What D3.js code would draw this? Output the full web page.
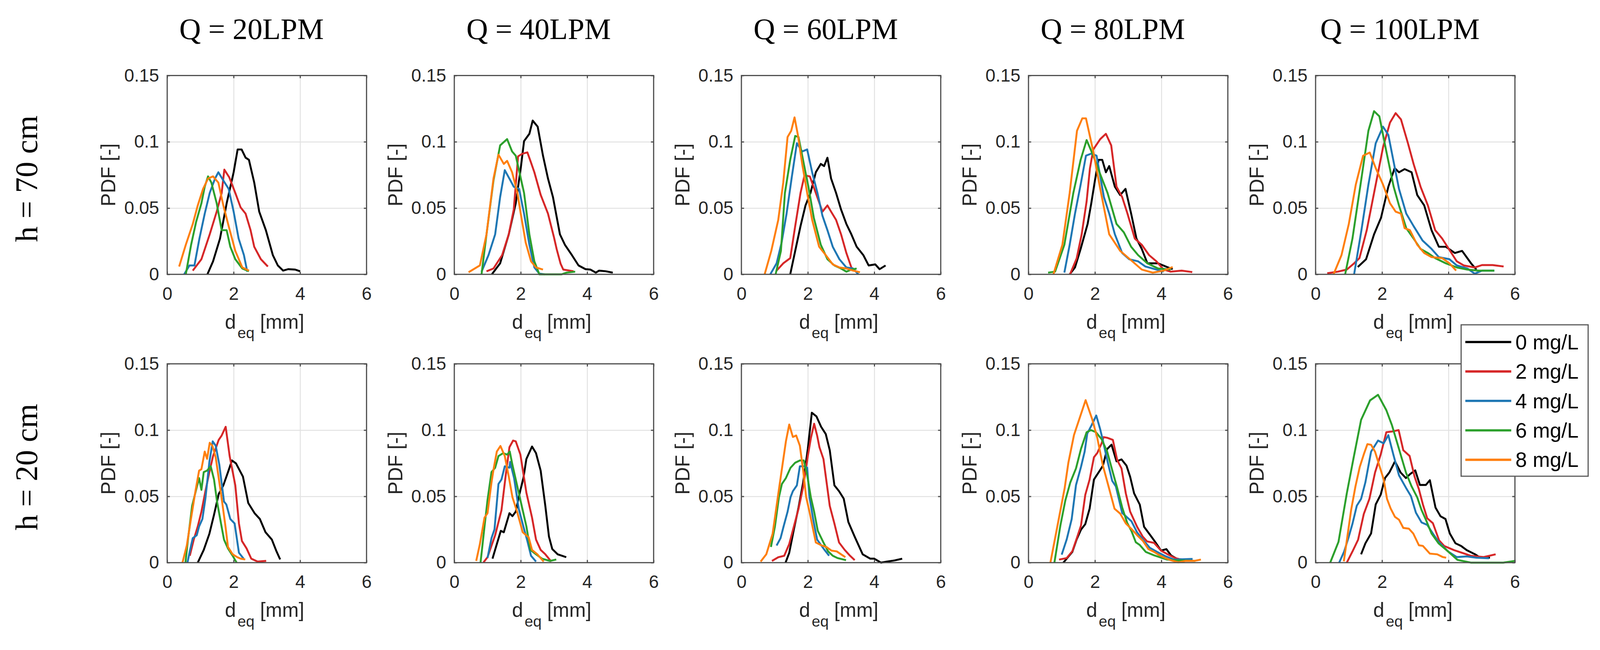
<!DOCTYPE html>
<html>
<head>
<meta charset="utf-8">
<script src="https://cdn.jsdelivr.net/npm/d3@7"></script>
<style>
  html, body { margin: 0; padding: 0; background: #fff; overflow: hidden; }
  svg { display: block; width: 100vw; height: 100vh; }
</style>
</head>
<body>
<svg id="chart"></svg>
<script>
// column / row headings and legend entries
var flowTitles = ["Q = 20LPM", "Q = 40LPM", "Q = 60LPM", "Q = 80LPM", "Q = 100LPM"];
var heightLabels = ["h = 70 cm", "h = 20 cm"];
var concLabels = ["0 mg/L", "2 mg/L", "4 mg/L", "6 mg/L", "8 mg/L"];
var xTicks = [0, 2, 4, 6];
var yTicks = [0, 0.05, 0.1, 0.15];

// each panel: [0 mg/L, 2 mg/L, 4 mg/L, 6 mg/L, 8 mg/L], points are [d_eq, PDF]
var h70_q20 = [
  [[1.21,0],[1.38,0.0098],[1.59,0.027],[1.79,0.0536],[2.0,0.077],[2.12,0.0942],[2.24,0.0942],[2.36,0.088],[2.46,0.0864],[2.62,0.0692],[2.77,0.0473],[2.97,0.0333],[3.18,0.0145],[3.33,0.0067],[3.49,0.0028],[3.64,0.0039],[3.85,0.0036],[4.0,0.0023]],
  [[0.77,0.0028],[1.03,0.0114],[1.28,0.0302],[1.49,0.0473],[1.64,0.0614],[1.72,0.079],[1.87,0.0731],[2.05,0.0614],[2.21,0.0505],[2.36,0.0458],[2.51,0.0333],[2.62,0.0208],[2.82,0.0114],[3.03,0.0059]],
  [[0.51,0],[0.67,0.0067],[0.82,0.0067],[0.97,0.027],[1.13,0.0458],[1.28,0.0614],[1.44,0.0723],[1.54,0.077],[1.69,0.0708],[1.85,0.0645],[2.0,0.0473],[2.15,0.027],[2.31,0.0145],[2.41,0.002]],
  [[0.56,0],[0.72,0.0223],[0.87,0.0395],[1.03,0.0536],[1.13,0.0661],[1.23,0.0739],[1.33,0.0692],[1.49,0.0536],[1.64,0.0333],[1.79,0.0333],[1.9,0.0208],[2.05,0.0114],[2.26,0.0044],[2.46,0.0023]],
  [[0.36,0.0059],[0.56,0.0223],[0.77,0.038],[0.92,0.052],[1.08,0.0645],[1.23,0.0723],[1.38,0.0739],[1.54,0.0692],[1.69,0.052],[1.85,0.0364],[2.05,0.0177],[2.26,0.0052],[2.46,0.0028]]
];
var h70_q40 = [
  [[1.13,0],[1.38,0.0083],[1.64,0.0302],[1.85,0.0536],[2.0,0.08],[2.1,0.1005],[2.26,0.106],[2.36,0.116],[2.51,0.1114],[2.67,0.0895],[2.82,0.0723],[2.97,0.0583],[3.18,0.0302],[3.33,0.0223],[3.54,0.0145],[3.74,0.0067],[3.95,0.0039],[4.1,0.0036],[4.26,0.0013],[4.36,0.0028],[4.56,0.0023],[4.77,0.0013]],
  [[0.97,0.0023],[1.18,0.0044],[1.44,0.0145],[1.64,0.0302],[1.79,0.0489],[1.92,0.089],[2.05,0.091],[2.2,0.092],[2.3,0.085],[2.41,0.077],[2.6,0.06],[2.82,0.0458],[3.0,0.028],[3.08,0.0192],[3.2,0.008],[3.28,0.0036],[3.59,0.0023]],
  [[0.82,0.002],[1.03,0.0145],[1.23,0.0302],[1.38,0.0583],[1.52,0.0786],[1.69,0.0708],[1.79,0.0661],[1.95,0.0645],[2.1,0.0458],[2.26,0.0223],[2.41,0.0052],[2.56,0.0005],[2.72,0]],
  [[0.82,0],[0.97,0.0302],[1.18,0.0708],[1.38,0.0973],[1.59,0.102],[1.74,0.0927],[1.85,0.0895],[2.1,0.0614],[2.26,0.0302],[2.41,0.0098],[2.56,0],[3.23,0],[3.38,0.0013],[3.64,0.002]],
  [[0.43,0.0016],[0.77,0.0067],[0.97,0.0302],[1.18,0.0723],[1.33,0.0903],[1.49,0.0833],[1.59,0.0856],[1.74,0.077],[1.9,0.0614],[2.0,0.0458],[2.15,0.0239],[2.31,0.0098],[2.46,0.0052],[2.67,0.0036]]
];
var h70_q60 = [
  [[1.47,0],[1.62,0.0177],[1.78,0.0364],[1.93,0.052],[2.08,0.0614],[2.24,0.077],[2.39,0.0833],[2.49,0.0817],[2.59,0.088],[2.7,0.0723],[2.85,0.0614],[3.0,0.0489],[3.16,0.038],[3.31,0.0302],[3.47,0.0208],[3.67,0.0145],[3.83,0.0067],[4.03,0.0075],[4.16,0.0039],[4.34,0.0067]],
  [[1.06,0.0028],[1.26,0.0083],[1.47,0.0122],[1.62,0.0364],[1.78,0.0614],[1.9,0.0747],[2.06,0.0739],[2.24,0.0614],[2.44,0.0473],[2.59,0.052],[2.7,0.0473],[2.85,0.0411],[3.0,0.0302],[3.16,0.0161],[3.31,0.0052],[3.47,0.0016]],
  [[0.87,0],[1.06,0.0083],[1.21,0.0239],[1.36,0.0458],[1.52,0.0739],[1.67,0.0989],[1.83,0.0927],[1.98,0.0942],[2.13,0.077],[2.29,0.0614],[2.44,0.0442],[2.59,0.0333],[2.75,0.0208],[2.95,0.0114],[3.16,0.0052],[3.36,0.0044],[3.52,0]],
  [[1.03,0],[1.19,0.0177],[1.31,0.0614],[1.47,0.0864],[1.62,0.1044],[1.72,0.1036],[1.88,0.0833],[2.03,0.0645],[2.18,0.0427],[2.39,0.0223],[2.59,0.0114],[2.8,0.0067],[3.0,0.0044],[3.16,0.002],[3.31,0.0036],[3.47,0.0044]],
  [[0.7,0],[0.9,0.0177],[1.11,0.0411],[1.26,0.0692],[1.39,0.1036],[1.5,0.1083],[1.6,0.1184],[1.7,0.1052],[1.83,0.0833],[1.98,0.0614],[2.13,0.0411],[2.34,0.0208],[2.54,0.0145],[2.75,0.0075],[2.95,0.0052],[3.16,0.0044],[3.36,0.0028],[3.57,0.0016]]
];
var h70_q80 = [
  [[1.24,0],[1.4,0.0052],[1.57,0.0192],[1.78,0.038],[1.89,0.0536],[2.0,0.0708],[2.11,0.0864],[2.22,0.0864],[2.33,0.077],[2.43,0.0817],[2.6,0.0661],[2.76,0.0598],[2.92,0.0645],[3.09,0.0458],[3.25,0.027],[3.41,0.0192],[3.58,0.0083],[3.9,0.0083],[4.17,0.0055],[4.34,0.0039]],
  [[1.25,0],[1.45,0.012],[1.6,0.03],[1.75,0.055],[1.85,0.08],[1.95,0.0942],[2.16,0.102],[2.33,0.106],[2.49,0.0973],[2.65,0.0661],[2.82,0.0583],[2.98,0.0458],[3.2,0.027],[3.41,0.0223],[3.63,0.0145],[3.85,0.0098],[4.07,0.0036],[4.28,0.002],[4.61,0.0028],[4.93,0.0017]],
  [[1.08,0.0013],[1.24,0.0223],[1.4,0.0458],[1.57,0.0677],[1.73,0.0895],[1.89,0.0911],[2.05,0.0895],[2.27,0.0583],[2.43,0.0458],[2.6,0.0302],[2.82,0.0161],[3.03,0.0114],[3.3,0.0098],[3.52,0.0059],[3.85,0.0036],[4.07,0.002]],
  [[0.59,0.0013],[0.8,0.002],[1.08,0.0223],[1.35,0.0614],[1.57,0.0864],[1.75,0.1013],[1.95,0.0895],[2.16,0.0755],[2.38,0.0614],[2.65,0.038],[2.87,0.0317],[3.09,0.0208],[3.3,0.0145],[3.58,0.0083],[3.9,0.0044],[4.28,0.0036]],
  [[0.75,0],[1.02,0.0223],[1.24,0.0614],[1.46,0.1083],[1.62,0.1177],[1.73,0.1177],[1.95,0.0927],[2.16,0.0645],[2.43,0.0302],[2.76,0.0177],[3.09,0.0106],[3.41,0.0036],[3.74,0.0013],[4.07,0.0028],[4.34,0.0055]]
];
var h70_q100 = [
  [[1.27,0.0055],[1.52,0.0114],[1.76,0.0302],[1.97,0.0427],[2.19,0.0661],[2.38,0.0802],[2.51,0.077],[2.68,0.0794],[2.89,0.077],[3.06,0.0598],[3.27,0.052],[3.49,0.0333],[3.71,0.0208],[3.92,0.0208],[4.19,0.0161],[4.41,0.0177],[4.68,0.0083],[4.84,0.0036]],
  [[0.35,0.0008],[0.67,0.002],[0.94,0.0036],[1.16,0.0083],[1.32,0.0122],[1.54,0.0333],[1.76,0.0614],[2.03,0.0958],[2.24,0.1145],[2.41,0.1216],[2.57,0.1169],[2.78,0.0989],[2.95,0.0833],[3.16,0.0661],[3.38,0.052],[3.6,0.0333],[3.81,0.027],[4.03,0.0184],[4.25,0.0098],[4.46,0.0067],[4.79,0.0052],[5.01,0.007],[5.33,0.007],[5.66,0.0059]],
  [[1.16,0],[1.38,0.0333],[1.59,0.0677],[1.81,0.0989],[2.03,0.1114],[2.19,0.1052],[2.35,0.0848],[2.51,0.0645],[2.73,0.0458],[2.95,0.0364],[3.22,0.0255],[3.49,0.0192],[3.71,0.013],[4.03,0.0114],[4.25,0.0067],[4.57,0.0044],[4.79,0.0005],[5.01,0.0028],[5.38,0.0028]],
  [[0.89,0],[1.11,0.027],[1.38,0.0723],[1.59,0.1083],[1.76,0.1231],[1.92,0.1192],[2.13,0.0927],[2.35,0.0661],[2.51,0.052],[2.73,0.0348],[2.95,0.027],[3.16,0.0192],[3.38,0.0161],[3.6,0.0122],[3.92,0.0083],[4.25,0.0052],[4.57,0.0036],[4.9,0.0028],[5.38,0.0028]],
  [[0.54,0],[0.78,0.0145],[1.0,0.038],[1.21,0.0677],[1.43,0.0895],[1.63,0.0919],[1.81,0.0802],[2.03,0.0677],[2.24,0.0536],[2.41,0.0473],[2.57,0.0458],[2.68,0.0348],[2.84,0.0333],[3.06,0.0223],[3.27,0.0161],[3.49,0.013],[3.81,0.0122],[4.03,0.0083],[4.23,0.0028]]
];
var h20_q20 = [
  [[0.92,0],[1.1,0.0096],[1.27,0.0218],[1.41,0.0362],[1.55,0.0517],[1.69,0.0583],[1.83,0.0683],[1.95,0.0771],[2.07,0.0749],[2.28,0.0649],[2.44,0.045],[2.63,0.0373],[2.79,0.0329],[2.96,0.0229],[3.15,0.0174],[3.29,0.0085],[3.4,0.0024]],
  [[0.68,0.0052],[0.8,0.0174],[0.92,0.0273],[1.03,0.0384],[1.15,0.0539],[1.27,0.0683],[1.38,0.0804],[1.55,0.0926],[1.64,0.0959],[1.76,0.1025],[1.88,0.0804],[2.05,0.0583],[2.16,0.0295],[2.25,0.0163],[2.39,0.0107],[2.53,0.003],[2.72,0.0008],[2.98,0.0013]],
  [[0.61,0],[0.68,0.0085],[0.77,0.0185],[0.89,0.0207],[0.96,0.0273],[1.06,0.0329],[1.15,0.0483],[1.27,0.076],[1.37,0.0915],[1.46,0.0882],[1.57,0.0738],[1.71,0.0461],[1.78,0.0439],[1.9,0.0329],[2.03,0.0295],[2.16,0.0074],[2.3,0.003]],
  [[0.55,0],[0.63,0.0185],[0.75,0.0428],[0.87,0.0549],[0.96,0.0638],[1.03,0.0549],[1.1,0.0683],[1.2,0.0694],[1.31,0.0727],[1.41,0.0627],[1.5,0.0461],[1.62,0.0295],[1.71,0.0174],[1.83,0.0107],[1.97,0.0052],[2.09,0]],
  [[0.46,0],[0.59,0.0129],[0.7,0.0306],[0.85,0.0539],[0.96,0.0694],[1.03,0.0705],[1.13,0.0838],[1.2,0.0783],[1.28,0.0904],[1.36,0.0882],[1.46,0.0794],[1.55,0.0639],[1.64,0.0483],[1.76,0.0262],[1.83,0.0118],[1.97,0.0063],[2.11,0.0041],[2.21,0.003],[2.35,0.0024]]
];
var h20_q40 = [
  [[1.15,0.003],[1.28,0.014],[1.4,0.024],[1.49,0.0229],[1.66,0.0373],[1.75,0.0351],[1.85,0.0384],[1.96,0.0517],[2.08,0.0638],[2.17,0.0782],[2.34,0.0876],[2.46,0.0826],[2.6,0.0694],[2.74,0.0428],[2.85,0.0196],[2.95,0.0102],[3.11,0.0063],[3.37,0.0041]],
  [[0.88,0.0002],[1.0,0.0041],[1.23,0.0207],[1.42,0.0395],[1.56,0.0683],[1.66,0.0871],[1.77,0.0921],[1.85,0.0915],[1.99,0.0815],[2.17,0.0528],[2.34,0.034],[2.46,0.0174],[2.6,0.0096],[2.74,0.0063],[2.92,0.0008]],
  [[1.0,0.0035],[1.12,0.0185],[1.21,0.0251],[1.33,0.0594],[1.42,0.0627],[1.52,0.0727],[1.66,0.0716],[1.68,0.076],[1.8,0.0638],[1.94,0.0406],[2.08,0.0273],[2.2,0.0163],[2.31,0.0052],[2.46,0.0008]],
  [[0.79,0],[0.91,0.0273],[1.0,0.0472],[1.12,0.0683],[1.23,0.0716],[1.33,0.0804],[1.47,0.0826],[1.59,0.0815],[1.67,0.0838],[1.75,0.0738],[1.89,0.0583],[2.03,0.0428],[2.17,0.0273],[2.29,0.0096],[2.46,0.0063],[2.64,0.003],[2.88,0.0013],[3.07,0.0024]],
  [[0.66,0.0013],[0.77,0.014],[0.91,0.034],[1.0,0.0373],[1.12,0.0605],[1.19,0.0716],[1.28,0.0838],[1.39,0.088],[1.52,0.0804],[1.64,0.0649],[1.75,0.0494],[1.89,0.0384],[2.06,0.0229],[2.24,0.019],[2.34,0.0096],[2.5,0.0063],[2.69,0.0008]]
];
var h20_q60 = [
  [[1.33,0],[1.44,0.0074],[1.58,0.0251],[1.72,0.0417],[1.86,0.0605],[2.0,0.086],[2.12,0.1131],[2.26,0.1103],[2.4,0.1025],[2.54,0.097],[2.66,0.0848],[2.8,0.0583],[2.94,0.0539],[3.08,0.0483],[3.22,0.0306],[3.41,0.0196],[3.65,0.0063],[3.88,0.003],[4.0,0.003],[4.2,0],[4.39,0.0008],[4.62,0.0017],[4.84,0.003]],
  [[0.92,0.0013],[1.11,0.0041],[1.29,0.0052],[1.44,0.014],[1.58,0.0273],[1.72,0.0406],[1.86,0.0572],[2.0,0.0804],[2.09,0.0937],[2.19,0.1048],[2.28,0.0959],[2.35,0.087],[2.47,0.0782],[2.66,0.0428],[2.8,0.0295],[2.94,0.0152],[3.11,0.0096],[3.27,0.0052],[3.41,0.0019]],
  [[1.06,0.0129],[1.18,0.0185],[1.27,0.0273],[1.39,0.0384],[1.48,0.0494],[1.55,0.0539],[1.67,0.0583],[1.76,0.0727],[1.88,0.0727],[1.98,0.0716],[2.05,0.0494],[2.16,0.0329],[2.28,0.0174],[2.47,0.0107],[2.64,0.0052]],
  [[0.89,0.0118],[1.01,0.0273],[1.13,0.0494],[1.22,0.0594],[1.34,0.0638],[1.48,0.0716],[1.62,0.0754],[1.76,0.0771],[1.88,0.0771],[1.98,0.066],[2.09,0.0494],[2.19,0.0384],[2.3,0.024],[2.47,0.0152],[2.61,0.0085],[2.75,0.0052],[2.89,0.0035],[3.15,0.0019]],
  [[0.58,0.0008],[0.75,0.0063],[0.94,0.0218],[1.11,0.0517],[1.25,0.076],[1.34,0.0915],[1.44,0.1042],[1.55,0.0948],[1.65,0.0959],[1.76,0.0882],[1.86,0.0694],[1.95,0.0494],[2.05,0.0384],[2.14,0.0273],[2.24,0.0152],[2.42,0.0129],[2.56,0.0118],[2.71,0.0091],[2.87,0.0085],[3.13,0.0041]]
];
var h20_q80 = [
  [[1.05,0],[1.18,0.0039],[1.32,0.0081],[1.45,0.0175],[1.58,0.0249],[1.71,0.0291],[1.84,0.0407],[1.97,0.0627],[2.16,0.07],[2.24,0.0732],[2.37,0.0858],[2.5,0.089],[2.65,0.0764],[2.8,0.0779],[2.95,0.0732],[3.06,0.0648],[3.18,0.0522],[3.35,0.0438],[3.48,0.027],[3.7,0.0196],[3.82,0.0154],[3.99,0.0091],[4.15,0.0102],[4.29,0.0055],[4.47,0.0028],[4.64,0.0023]],
  [[0.92,0.0023],[1.15,0.0034],[1.32,0.0086],[1.47,0.0196],[1.58,0.028],[1.71,0.0512],[1.84,0.0627],[1.97,0.0795],[2.07,0.0827],[2.2,0.09],[2.26,0.0947],[2.37,0.0942],[2.54,0.0926],[2.67,0.0774],[2.8,0.0711],[2.93,0.0522],[3.06,0.0385],[3.27,0.027],[3.44,0.0196],[3.57,0.016],[3.78,0.0149],[3.99,0.0091],[4.21,0.006],[4.42,0.0034],[4.59,0.0023]],
  [[1.0,0.006],[1.15,0.0175],[1.3,0.0328],[1.43,0.0585],[1.58,0.0722],[1.69,0.0837],[1.77,0.0974],[1.9,0.1037],[2.04,0.111],[2.16,0.1005],[2.24,0.0921],[2.37,0.0774],[2.52,0.0617],[2.63,0.0575],[2.82,0.0375],[3.1,0.0312],[3.27,0.0228],[3.44,0.0175],[3.65,0.0112],[3.87,0.0081],[4.12,0.0049],[4.38,0.0023],[4.94,0.0028]],
  [[0.78,0],[0.96,0.028],[1.11,0.047],[1.26,0.0606],[1.43,0.0711],[1.58,0.0858],[1.75,0.0984],[1.88,0.1],[2.03,0.0984],[2.2,0.0932],[2.37,0.0837],[2.54,0.068],[2.67,0.0564],[2.82,0.0417],[2.97,0.0301],[3.1,0.0238],[3.23,0.0154],[3.35,0.0133],[3.53,0.0081],[3.78,0.0055],[4.17,0.0023],[4.38,0.0018],[5.02,0.0013]],
  [[0.66,0],[1.09,0.0564],[1.2,0.0753],[1.37,0.0963],[1.72,0.1226],[1.92,0.108],[2.07,0.0942],[2.24,0.0732],[2.41,0.0575],[2.59,0.0407],[2.76,0.037],[2.93,0.0296],[3.1,0.0254],[3.27,0.0207],[3.44,0.0165],[3.61,0.0102],[3.78,0.0081],[3.95,0.0055],[4.12,0.0034],[4.29,0.0018],[4.51,0.0002],[4.72,0.0013],[4.98,0.0013],[5.19,0.0023]]
];
var h20_q100 = [
  [[1.37,0.0063],[1.5,0.0146],[1.67,0.022],[1.81,0.0439],[1.96,0.0513],[2.09,0.0638],[2.22,0.068],[2.39,0.0764],[2.56,0.068],[2.72,0.0638],[2.85,0.0669],[3.0,0.0696],[3.14,0.0586],[3.32,0.0586],[3.44,0.0622],[3.61,0.0415],[3.76,0.035],[3.91,0.0329],[4.04,0.022],[4.21,0.0146],[4.38,0.0126],[4.55,0.0094],[4.8,0.0063],[4.93,0.0042],[5.25,0.0037]],
  [[0.94,0],[1.11,0.0084],[1.28,0.0173],[1.45,0.0366],[1.62,0.0481],[1.79,0.068],[1.96,0.0816],[2.13,0.0984],[2.3,0.0989],[2.5,0.1],[2.64,0.0848],[2.83,0.0805],[2.98,0.0649],[3.11,0.0554],[3.23,0.0439],[3.36,0.0335],[3.53,0.0298],[3.72,0.0167],[3.87,0.0126],[4.17,0.0094],[4.42,0.0073],[4.67,0.0052],[5.06,0.0042],[5.42,0.0063]],
  [[0.71,0],[0.86,0.0084],[0.99,0.0188],[1.11,0.0293],[1.24,0.0429],[1.37,0.0481],[1.5,0.0607],[1.67,0.0837],[1.88,0.0921],[2.05,0.09],[2.19,0.0962],[2.34,0.0816],[2.51,0.0659],[2.72,0.0565],[2.87,0.0502],[3.02,0.0377],[3.19,0.0303],[3.36,0.0285],[3.53,0.022],[3.7,0.0157],[3.99,0.0084],[4.25,0.0042],[4.55,0.0047],[4.84,0.0037],[5.22,0.0033]],
  [[0.44,0],[0.69,0.0157],[0.94,0.0523],[1.14,0.0785],[1.37,0.1077],[1.64,0.1224],[1.88,0.1266],[2.13,0.115],[2.3,0.1036],[2.51,0.0858],[2.72,0.068],[2.89,0.0575],[3.06,0.0492],[3.19,0.0397],[3.32,0.0324],[3.49,0.022],[3.7,0.0146],[3.99,0.0084],[4.27,0.0021],[4.67,0],[5.1,0],[5.65,0],[5.99,0.0013]],
  [[0.85,0.001],[0.94,0.0167],[1.07,0.0397],[1.2,0.0575],[1.33,0.0722],[1.45,0.0816],[1.56,0.0894],[1.67,0.0889],[1.79,0.0837],[1.92,0.0732],[2.05,0.0628],[2.15,0.0481],[2.26,0.0408],[2.39,0.0345],[2.51,0.0324],[2.64,0.0262],[2.81,0.0256],[2.94,0.022],[3.11,0.0131],[3.23,0.0126],[3.44,0.0068],[3.66,0.0063],[3.83,0.0042],[3.93,0.0037]]
];

var panelRows = [
  [h70_q20, h70_q40, h70_q60, h70_q80, h70_q100],
  [h20_q20, h20_q40, h20_q60, h20_q80, h20_q100]
];
var seriesColors = ["#000000", "#d62728", "#1f77b4", "#2ca02c", "#ff7f0e"];

var W = 4182, H = 1665;
var colLeft0 = 437, colPitch = 750.4;
var rowTop = [180, 934];
var pw = 521, ph = 520;
var axisColor = "#4d4d4d";
var sans = "'Liberation Sans', Arial, sans-serif";
var serif = "'Liberation Serif', 'Times New Roman', serif";
var fmt = d3.format("~g");

// viewBox keeps the whole figure inside the window whatever its exact size
var svg = d3.select("#chart")
  .attr("viewBox", "0 0 " + W + " " + H)
  .attr("preserveAspectRatio", "xMidYMid meet");
svg.append("rect").attr("width", W).attr("height", H).attr("fill", "#fff");

var x = d3.scaleLinear().domain([0, 6]).range([0, pw]);
var y = d3.scaleLinear().domain([0, 0.15]).range([ph, 0]);
var line = d3.line().x(function(d) { return x(d[0]); }).y(function(d) { return y(d[1]); });

panelRows.forEach(function(row, r) {
  row.forEach(function(panel, c) {
    var left = colLeft0 + c * colPitch, top = rowTop[r];
    var g = svg.append("g").attr("transform", "translate(" + left + "," + top + ")");

    // grid
    var gx = g.append("g").call(d3.axisBottom(x).tickValues(xTicks).tickSize(ph).tickFormat(""));
    var gy = g.append("g").call(d3.axisRight(y).tickValues(yTicks).tickSize(pw).tickFormat(""));
    [gx, gy].forEach(function(a) {
      a.select(".domain").remove();
      a.selectAll("line").attr("stroke", "#e2e2e2").attr("stroke-width", 2.5);
    });

    // curves
    g.selectAll("path.curve").data(panel).enter().append("path")
      .attr("class", "curve")
      .attr("d", line)
      .attr("fill", "none")
      .attr("stroke", function(d, i) { return seriesColors[i]; })
      .attr("stroke-width", 5)
      .attr("stroke-linejoin", "round");

    // frame
    g.append("rect").attr("width", pw).attr("height", ph)
      .attr("fill", "none").attr("stroke", axisColor).attr("stroke-width", 3);

    // axes with inward ticks
    var ax = g.append("g").attr("transform", "translate(0," + ph + ")")
      .call(d3.axisBottom(x).tickValues(xTicks).tickSizeInner(-7).tickSizeOuter(0).tickPadding(33).tickFormat(fmt));
    var ay = g.append("g")
      .call(d3.axisLeft(y).tickValues(yTicks).tickSizeInner(-7).tickSizeOuter(0).tickPadding(21).tickFormat(fmt));
    var at = g.append("g").call(d3.axisTop(x).tickValues(xTicks).tickSizeInner(-7).tickSizeOuter(0).tickFormat(""));
    var ar = g.append("g").attr("transform", "translate(" + pw + ",0)")
      .call(d3.axisRight(y).tickValues(yTicks).tickSizeInner(-7).tickSizeOuter(0).tickFormat(""));
    [ax, ay, at, ar].forEach(function(a) {
      a.select(".domain").remove();
      a.selectAll("line").attr("stroke", axisColor).attr("stroke-width", 3);
      a.selectAll("text").attr("font-family", sans).attr("font-size", 47).attr("fill", "#262626");
    });

    // axis labels
    g.append("text")
      .attr("transform", "translate(-136," + (ph / 2) + ") rotate(-90)")
      .attr("text-anchor", "middle")
      .attr("font-family", sans).attr("font-size", 52).attr("fill", "#262626")
      .text("PDF [-]");
    var xl = g.append("text")
      .attr("x", pw / 2 - 6).attr("y", ph + 142)
      .attr("text-anchor", "middle")
      .attr("font-family", sans).attr("font-size", 52).attr("fill", "#262626");
    xl.append("tspan").text("d");
    xl.append("tspan").attr("font-size", 40).attr("dy", 25).attr("dx", 4).text("eq");
    xl.append("tspan").attr("dy", -25).text(" [mm]");

    if (r === 0) {
      svg.append("text")
        .attr("x", left + pw / 2 - 40).attr("y", 85)
        .attr("text-anchor", "middle")
        .attr("font-family", serif).attr("font-size", 78).attr("fill", "#000")
        .text(flowTitles[c]);
    }
    if (c === 0) {
      svg.append("text")
        .attr("transform", "translate(97," + (top + ph / 2 + 10) + ") rotate(-90)")
        .attr("text-anchor", "middle")
        .attr("font-family", serif).attr("font-size", 82).attr("fill", "#000")
        .text(heightLabels[r]);
    }
  });
});

// legend
var lg = svg.append("g").attr("transform", "translate(3819,832)");
lg.append("rect").attr("width", 332).attr("height", 396)
  .attr("fill", "#fff").attr("stroke", "#5a5a5a").attr("stroke-width", 3);
var items = lg.selectAll("g.item").data(concLabels).enter().append("g")
  .attr("class", "item")
  .attr("transform", function(d, i) { return "translate(0," + (45 + i * 77) + ")"; });
items.append("line").attr("x1", 11).attr("x2", 131)
  .attr("stroke", function(d, i) { return seriesColors[i]; })
  .attr("stroke-width", 6);
items.append("text").attr("x", 142).attr("y", 19)
  .attr("font-family", sans).attr("font-size", 54).attr("fill", "#000")
  .text(function(d) { return d; });
</script>
</body>
</html>
